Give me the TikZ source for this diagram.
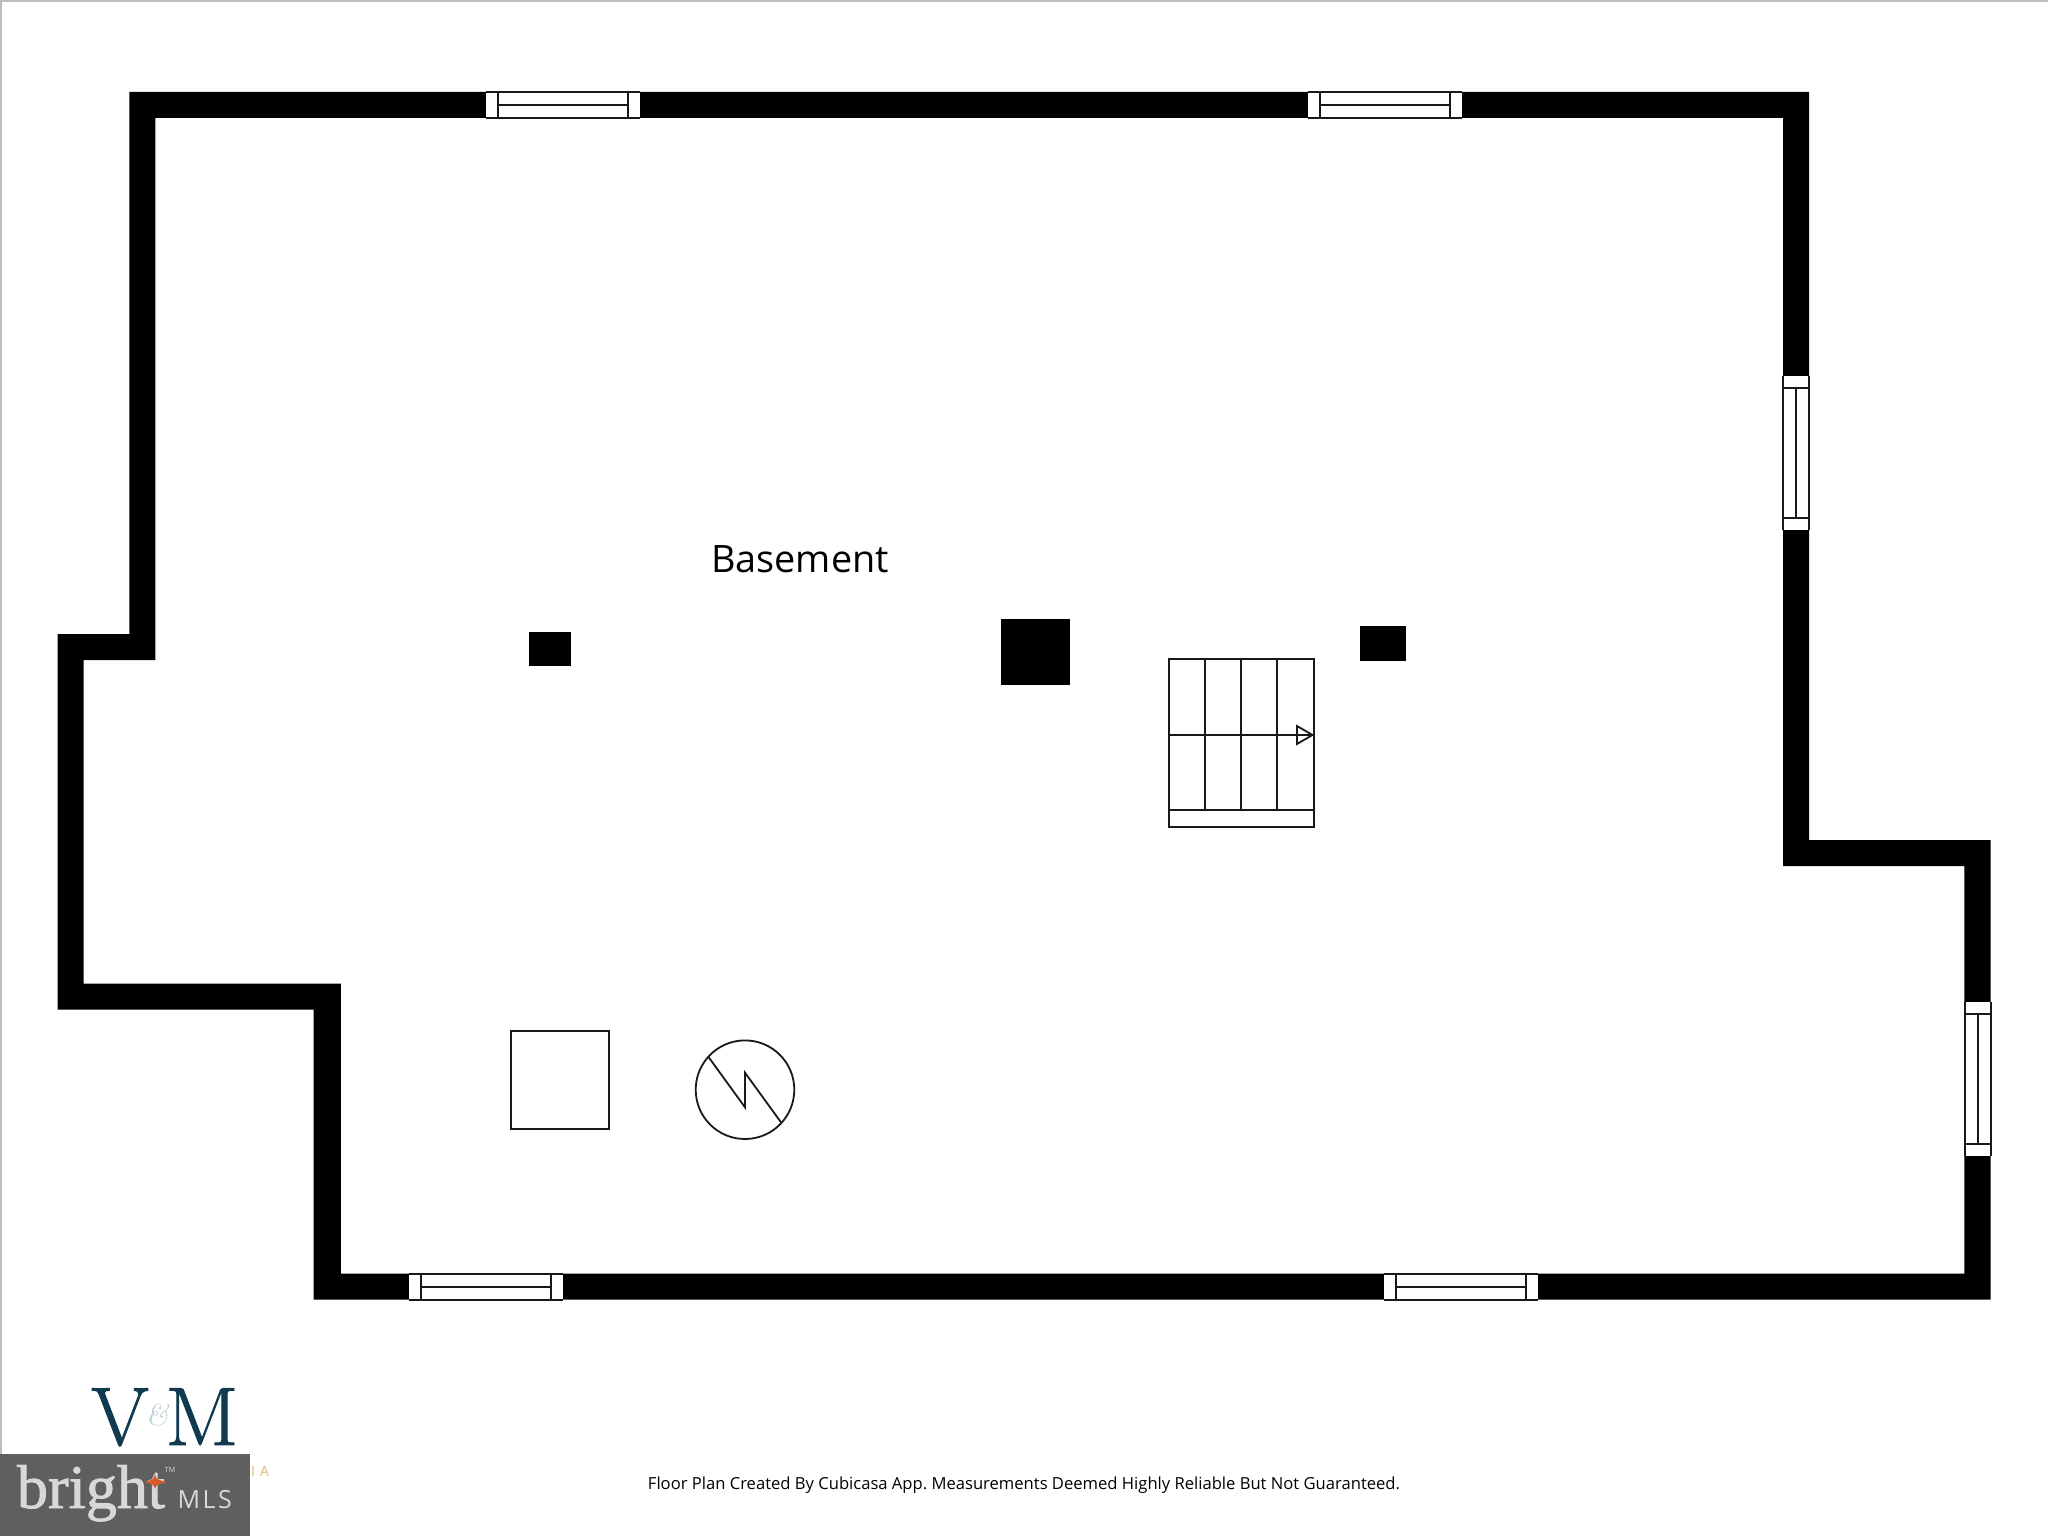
\documentclass[tikz,border=0pt]{standalone}
\usepackage{fontspec}
\setmainfont{Open Sans}
\newfontfamily\brightfont[FakeBold=1.4]{Liberation Serif}
\newfontfamily\lmfont[FakeBold=1.1]{Latin Modern Roman}
\newfontfamily\ampfont{Latin Modern Roman}
\definecolor{navy}{HTML}{0F3A50}
\definecolor{paleblue}{HTML}{B9CFDA}
\definecolor{gold}{HTML}{D9BC6A}
\definecolor{mlsgray}{HTML}{5F5F5F}
\definecolor{mlstext}{HTML}{D8D8D8}
\definecolor{star}{HTML}{D8592B}
\definecolor{edgegray}{HTML}{BDBDBD}
\tikzset{
  wallfill/.style={fill=black,draw=none,even odd rule},
  fixture/.style={draw=black!90,line width=1.8pt,line join=miter},
  winline/.style={draw=black!90,line width=1.8pt,fill=white},
  column/.style={fill=black,draw=none},
  txt/.style={inner sep=0pt,outer sep=0pt,anchor=base}
}
% horizontal window: left x, top y
\newcommand{\hwin}[2]{%
  \fill[white] (#1,#2) rectangle +(154,26);
  \draw[winline] (#1,#2) -- +(154,0) (#1,#2+26) -- +(154,0);
  \draw[winline] (#1+12,#2) rectangle +(130,26);
  \draw[winline] (#1+12,#2+13) -- +(130,0);}
% vertical window: left x, top y
\newcommand{\vwin}[2]{%
  \fill[white] (#1,#2) rectangle +(26,154);
  \draw[winline] (#1,#2) -- +(0,154) (#1+26,#2) -- +(0,154);
  \draw[winline] (#1,#2+12) rectangle +(26,130);
  \draw[winline] (#1+13,#2+12) -- +(0,130);}
\begin{document}
\frenchspacing
\begin{tikzpicture}[x=1pt,y=-1pt]
\useasboundingbox (0,0) rectangle (2048,1536);
\fill[white] (0,0) rectangle (2048,1536);
\draw[edgegray,line width=2pt] (1,1454) -- (1,1) -- (2048,1);
% walls
\path[wallfill]
  (129.3,92) -- (1809,92) -- (1809,840) -- (1990.5,840) -- (1990.5,1299.6)
  -- (313.5,1299.6) -- (313.5,1009.6) -- (57.5,1009.6) -- (57.5,634) -- (129.3,634) -- cycle
  (155.4,118) -- (1783,118) -- (1783,866) -- (1964.4,866) -- (1964.4,1273.5)
  -- (340.9,1273.5) -- (340.9,983.5) -- (83.6,983.5) -- (83.6,660) -- (155.4,660) -- cycle;
% windows
\hwin{486}{92}
\hwin{1308}{92}
\hwin{409}{1274}
\hwin{1384}{1274}
\vwin{1783}{376}
\vwin{1965}{1002}
% columns
\fill[column] (529,632) rectangle (571,666);
\fill[column] (1000.5,619) rectangle (1070,684.5);
\fill[column] (1359.5,625.5) rectangle (1405.5,661);
% stairs
\draw[fixture] (1169,659) rectangle (1314,827);
\draw[fixture] (1169,810) -- (1314,810);
\draw[fixture] (1205,659) -- (1205,810);
\draw[fixture] (1241,659) -- (1241,810);
\draw[fixture] (1277,659) -- (1277,810);
\draw[fixture] (1169,735) -- (1312,735);
\draw[fixture] (1297,726) -- (1312.5,735) -- (1297,744) -- cycle;
% square and circle
\draw[fixture] (511,1031) rectangle (609,1129);
\draw[fixture] (745,1089.7) circle[radius=49.3];
\draw[fixture] (708.3,1056.7) -- (745,1107.3) -- (745,1072.7) -- (781,1122.3);
% labels
\node[txt] (room) at (800,572) {\fontsize{37.8}{44}\selectfont Basement};
\node[txt] (foot) at (1024,1489.5) {\fontsize{16.6}{20}\selectfont Floor Plan Created By Cubicasa App. Measurements Deemed Highly Reliable But Not Guaranteed.};
% V&M logo
\node[txt,text=navy] (logoV) at (120,1445) {\lmfont\fontsize{83}{90}\selectfont V};
\node[txt,text=navy,xscale=1.04] (logoM) at (202,1445) {\lmfont\fontsize{83}{90}\selectfont M};
\node[txt,text=paleblue] (logoamp) at (157,1425) {\ampfont\itshape\fontsize{30}{32}\selectfont\&};
\node[txt,text=gold] (logoia) at (260,1476) {\fontsize{14}{16}\selectfont I\hspace{5pt}A};
% Bright MLS
\fill[mlsgray] (0,1454) rectangle (250,1536);
\node[txt,text=mlstext,anchor=base west] (bright) at (17,1508) {\brightfont\fontsize{62}{64}\selectfont bright};
\node[txt,text=mlstext] (tm) at (170,1472) {\fontsize{7}{8}\selectfont TM};
\fill[star] (155,1474) .. controls (156,1479) and (157,1480) .. (167,1482)
  .. controls (157,1484) and (156,1485) .. (155,1489)
  .. controls (154,1485) and (153,1484) .. (144,1482)
  .. controls (153,1480) and (154,1479) .. (155,1474) -- cycle;
\node[txt,text=mlstext,anchor=base west] (mls) at (177.5,1508) {\addfontfeature{LetterSpace=10}\fontsize{25}{28}\selectfont MLS};
\end{tikzpicture}
\end{document}
